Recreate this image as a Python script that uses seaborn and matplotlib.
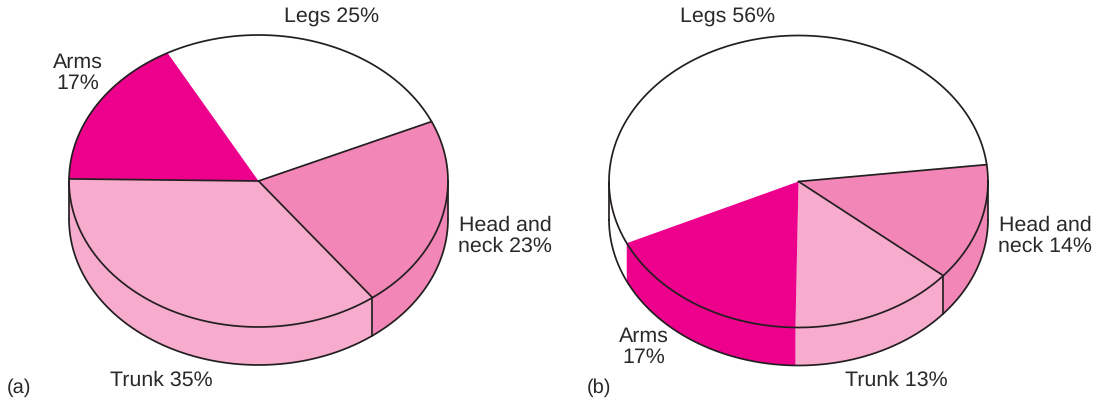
import numpy as np
import matplotlib
matplotlib.use("Agg")
import matplotlib.pyplot as plt
import seaborn as sns

# Slice shares as drawn, in drawing order
segments = ["Legs", "Head and neck", "Trunk", "Arms"]
shares_a = [26.3, 21.4, 35.5, 16.8]
shares_b = [55.1, 13.0, 14.1, 17.8]
labels_a = ["Legs 25%", "Head and\nneck 23%", "Trunk 35%", "Arms\n17%"]
labels_b = ["Legs 56%", "Head and\nneck 14%", "Trunk 13%", "Arms\n17%"]
colors = ["#FFFFFF", "#F287B7", "#F7ACCD", "#EC008C"]
# which slice boundaries carry a black rule (arms/legs, legs/head, head/trunk, trunk/arms)
rules_a = [False, True, True, True]
rules_b = [False, True, True, False]

W, H = 1100, 404
RX, RY, DEPTH = 189.5, 146.0, 38.0
LW = 1.25
INK = "#231F20"
TEXT = "#2B2829"

sns.set_theme(style="white")
plt.rcParams["font.family"] = ["Liberation Sans", "DejaVu Sans"]
plt.rcParams["text.hinting"] = "no_hinting"

fig = plt.figure(figsize=(W / 100, H / 100), dpi=100, facecolor="white")


def draw_pie(cx, cy, shares, start, rules, panel_x0, panel_x1):
    ax = fig.add_axes([panel_x0 / W, 0, (panel_x1 - panel_x0) / W, 1])
    ax.pie(shares, startangle=start, counterclock=False, colors=colors,
           wedgeprops=dict(linewidth=0, zorder=3))
    ax.set_aspect("auto")
    ax.set_xlim((panel_x0 - cx) / RX, (panel_x1 - cx) / RX)
    ax.set_ylim((cy - H) / RY, cy / RY)
    ax.axis("off")
    d = DEPTH / RY
    line = dict(color=INK, linewidth=LW, solid_capstyle="round", clip_on=False)
    edges = start - np.cumsum([0] + list(shares)) * 3.6

    # side wall: lower half of each slice, dropped by the pie's depth
    for hi, lo, col in zip(edges[:-1], edges[1:], colors):
        for k in (-360, 0, 360):
            a0, a1 = max(lo + k, 180), min(hi + k, 360)
            if a1 <= a0:
                continue
            t = np.radians(np.linspace(a0, a1, 120))
            x, y = np.cos(t), np.sin(t)
            ax.fill(np.r_[x, x[::-1]], np.r_[y, y[::-1] - d], facecolor=col,
                    edgecolor="none", zorder=1, clip_on=False)

    # outlines
    t = np.radians(np.linspace(0, 360, 720))
    ax.plot(np.cos(t), np.sin(t), zorder=5, **line)
    t = np.radians(np.linspace(180, 360, 360))
    ax.plot(np.cos(t), np.sin(t) - d, zorder=5, **line)
    for side in (-1, 1):
        ax.plot([side, side], [0, -d], zorder=5, **line)
    for ang, on in zip(edges[:-1], rules):
        if not on:
            continue
        c, s = np.cos(np.radians(ang)), np.sin(np.radians(ang))
        ax.plot([0, c], [0, s], zorder=5, **line)
        if s < 0:
            ax.plot([c, c], [s, s - d], zorder=2, **line)
    return ax


draw_pie(258.5, 181, shares_a, 118.7, rules_a, 0, 550)
draw_pie(798.5, 181.5, shares_b, 205.0, rules_b, 550, 1100)


def label(x, y, s, ha="center", size=15.4):
    fig.text(x / W, 1 - y / H, s, ha=ha, va="center", fontsize=size, color=TEXT,
             linespacing=1.12)


label(332, 17, labels_a[0])
label(505, 236, labels_a[1])
label(161, 380, labels_a[2])
label(77.5, 73, labels_a[3])
label(7, 388, "(a)", ha="left", size=14.4)

label(728, 17, labels_b[0])
label(1045, 236, labels_b[1])
label(896, 380, labels_b[2])
label(644, 347, labels_b[3])
label(587, 388, "(b)", ha="left", size=14.4)

fig.savefig("out.png", dpi=100, facecolor="white")
